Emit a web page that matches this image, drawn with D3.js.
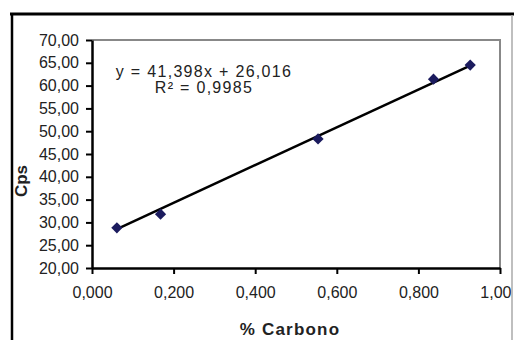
<!DOCTYPE html>
<html>
<head>
<meta charset="utf-8">
<script src="https://cdn.jsdelivr.net/npm/d3@7"></script>
<style>
  body { margin: 0; background: #fff; }
  text { font-family: "Liberation Sans", Arial, sans-serif; }
</style>
</head>
<body>
<div class="chartCont"></div>
<script>
var w = 514;
var h = 340;

// data
const carbono = [0.061, 0.168, 0.554, 0.837, 0.927];
const cps = [28.8, 31.8, 48.3, 61.4, 64.5];
const yTicks = [20, 25, 30, 35, 40, 45, 50, 55, 60, 65, 70];
const xTicks = [0, 0.2, 0.4, 0.6, 0.8, 1.0];
const xTickLabels = ["0,000", "0,200", "0,400", "0,600", "0,800", "1,00"];
const slope = 41.398;
const intercept = 26.016;
const eqLabel = "y = 41,398x + 26,016";
const r2Label = "R² = 0,9985";

var svg = d3.select(".chartCont").append("svg")
    .attr("width", w)
    .attr("height", h);

var g = svg.append("g");

const x = d3.scaleLinear().domain([0, 1]).range([92, 500]);
const y = d3.scaleLinear().domain([20, 70]).range([268, 40]);

const fmtY = v => d3.format(".2f")(v).replace(".", ",");

// plot area frame (grey top / right)
g.append("path")
  .attr("d", "M" + x(0) + "," + y(70) + "H" + x(1) + "V" + y(20))
  .attr("fill", "none")
  .attr("stroke", "#888")
  .attr("stroke-width", 2);

const yAxis = g.append("g")
  .attr("transform", "translate(" + x(0) + ",0)")
  .call(d3.axisLeft(y).tickValues(yTicks).tickFormat(fmtY).tickSize(6).tickPadding(7).tickSizeOuter(0));

const xAxis = g.append("g")
  .attr("transform", "translate(0," + y(20) + ")")
  .call(d3.axisBottom(x).tickValues(xTicks).tickFormat((d, i) => xTickLabels[i]).tickSize(6).tickPadding(13).tickSizeOuter(0));

[yAxis, xAxis].forEach(a => {
  a.select(".domain").attr("stroke", "#000").attr("stroke-width", 2.5);
  a.selectAll(".tick line").attr("stroke", "#000").attr("stroke-width", 2);
  a.selectAll(".tick text")
    .attr("font-family", "Liberation Sans, Arial, sans-serif")
    .attr("font-size", 16)
    .attr("fill", "#222");
});

// last x label sits against the chart border
xAxis.selectAll(".tick text")
  .filter((d, i) => i === xTicks.length - 1)
  .attr("text-anchor", "end")
  .attr("x", 11);

// trendline over the data range
const x0 = d3.min(carbono), x1 = d3.max(carbono);
g.append("line")
  .attr("x1", x(x0)).attr("y1", y(slope * x0 + intercept))
  .attr("x2", x(x1)).attr("y2", y(slope * x1 + intercept))
  .attr("stroke", "#000")
  .attr("stroke-width", 2.5);

g.selectAll(".pt")
  .data(d3.zip(carbono, cps))
  .enter()
  .append("path")
  .attr("class", "pt")
  .attr("d", d3.symbol(d3.symbolDiamond2, 80))
  .attr("transform", d => "translate(" + x(d[0]) + "," + y(d[1]) + ")")
  .attr("fill", "#1b1b5e");

g.append("text")
  .attr("x", 204).attr("y", 77)
  .attr("text-anchor", "middle")
  .attr("font-size", 16)
  .attr("letter-spacing", 1.3)
  .attr("fill", "#222")
  .text(eqLabel);

g.append("text")
  .attr("x", 204).attr("y", 93)
  .attr("text-anchor", "middle")
  .attr("font-size", 16)
  .attr("letter-spacing", 1.3)
  .attr("fill", "#222")
  .text(r2Label);

// axis titles
g.append("text")
  .attr("x", 290).attr("y", 335)
  .attr("text-anchor", "middle")
  .attr("font-size", 17)
  .attr("font-weight", "bold")
  .attr("letter-spacing", 1.2)
  .attr("fill", "#222")
  .text("% Carbono");

g.append("text")
  .attr("transform", "translate(27,181) rotate(-90)")
  .attr("text-anchor", "middle")
  .attr("font-size", 17)
  .attr("font-weight", "bold")
  .attr("fill", "#222")
  .text("Cps");

// outer chart border: black top/left, grey right
svg.append("line").attr("x1", 10).attr("x2", 514).attr("y1", 14).attr("y2", 14)
  .attr("stroke", "#000").attr("stroke-width", 3);
svg.append("line").attr("x1", 12).attr("x2", 12).attr("y1", 13).attr("y2", 340)
  .attr("stroke", "#000").attr("stroke-width", 2.5);
svg.append("line").attr("x1", 512).attr("x2", 512).attr("y1", 15).attr("y2", 340)
  .attr("stroke", "#aaa").attr("stroke-width", 1.5);
</script>
</body>
</html>
